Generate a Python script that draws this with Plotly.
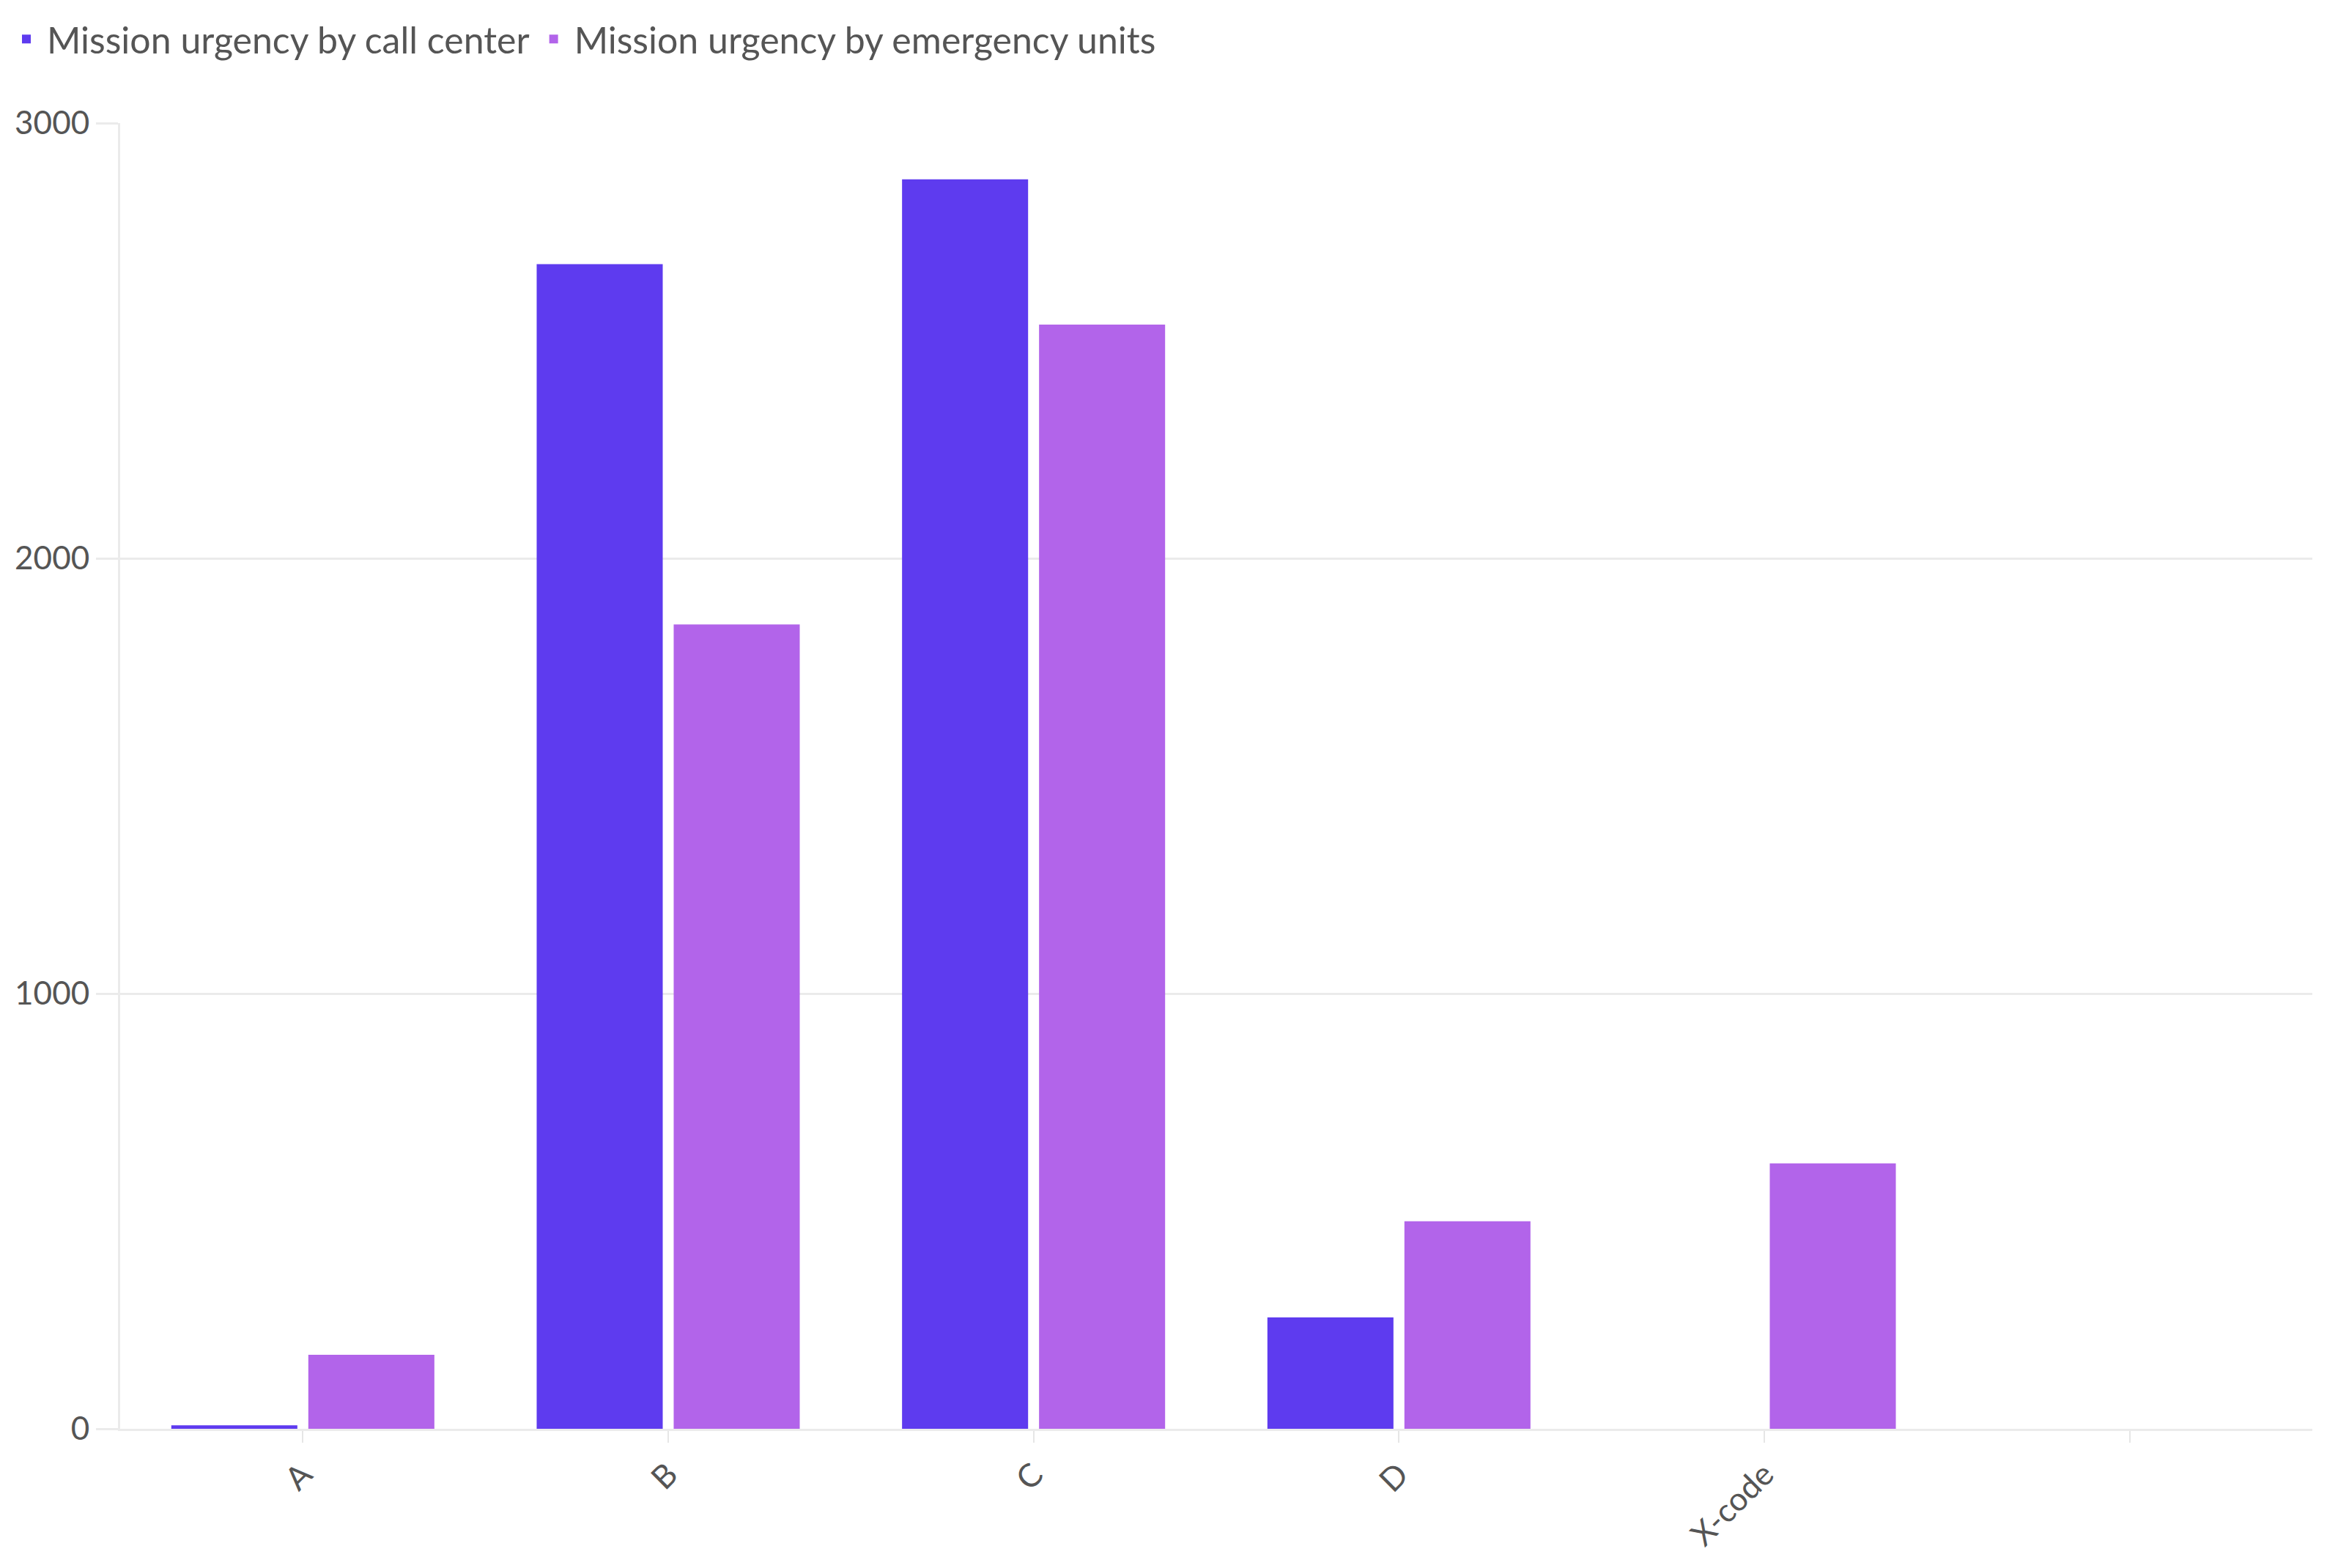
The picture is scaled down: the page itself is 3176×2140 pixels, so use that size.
import plotly.graph_objects as go

# categories (the last one is an empty slot shown on the axis)
categories = ["A", "B", "C", "D", "X-code", " "]
call_center = [8, 2676, 2871, 256, None, None]
emergency_units = [170, 1848, 2537, 477, 610, None]

y_ticks = [0, 1000, 2000, 3000]

series = [
    ("Mission urgency by call center", call_center, "#5E3BEF"),
    ("Mission urgency by emergency units", emergency_units, "#B264EA"),
]

fig = go.Figure()

for name, values, color in series:
    fig.add_trace(go.Bar(
        x=categories,
        y=values,
        name=name,
        marker=dict(color=color, line=dict(width=0)),
    ))

fig.update_layout(
    barmode="group",
    bargap=0.25,
    bargroupgap=0.08,
    plot_bgcolor="white",
    paper_bgcolor="white",
    font=dict(family="Lato, Open Sans, sans-serif", size=44, color="#555555"),
    margin=dict(l=156, r=12, t=160, b=182),
    legend=dict(
        orientation="h",
        x=0, y=0.997, xref="container", yref="container",
        xanchor="left", yanchor="top",
        font=dict(size=50, color="#555555"),
        itemwidth=46,
        tracegroupgap=0,
    ),
)

fig.update_xaxes(
    type="category",
    categoryorder="array",
    categoryarray=categories,
    tickangle=-45,
    ticks="outside",
    ticklen=16,
    tickwidth=2,
    tickcolor="#e6e6e6",
    showgrid=False,
    showline=True,
    linecolor="#ebebeb",
    linewidth=3,
    tickfont=dict(size=44, color="#555555"),
)

fig.update_yaxes(
    range=[0, 3000],
    tickvals=y_ticks,
    ticks="outside",
    ticklen=30,
    tickwidth=3,
    tickcolor="#ebebeb",
    showgrid=True,
    gridcolor="#ebebeb",
    gridwidth=3,
    showline=True,
    linecolor="#ebebeb",
    linewidth=3,
    zeroline=False,
    tickfont=dict(size=44, color="#555555"),
)

fig.write_html("out.html")
